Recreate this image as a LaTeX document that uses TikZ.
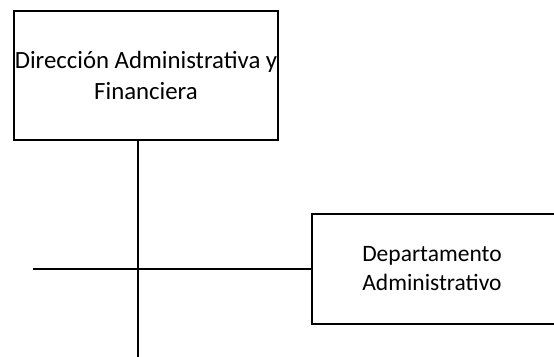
\documentclass[tikz,border=0pt]{standalone}
\usepackage{fontspec}
\setmainfont{Carlito}
\newcommand{\depshiftleft}{\hspace*{-10pt}}
\begin{document}
\begin{tikzpicture}[x=1pt,y=-1pt,
  orgbox/.style={draw=black,line width=1.3pt,fill=white,inner sep=0pt,align=center},
  conn/.style={draw=black,line width=1.3pt}]
\useasboundingbox (0,0) rectangle (554,356);
\node[orgbox,minimum width=264pt,minimum height=129pt,font=\fontsize{24.8}{31}\selectfont] (dir) at (146,75.5) {Dirección Administrativa y\\Financiera};
\node[orgbox,minimum width=250pt,minimum height=110pt,font=\fontsize{23.5}{29}\selectfont] (dep) at (437,269) {\depshiftleft Departamento\\\depshiftleft Administrativo};
\coordinate (vb) at (138,358);
\coordinate (hl) at (33,269);
\draw[conn] (dir.south -| vb) -- (vb);
\draw[conn] (hl) -- (dep.west);
\end{tikzpicture}
\end{document}
